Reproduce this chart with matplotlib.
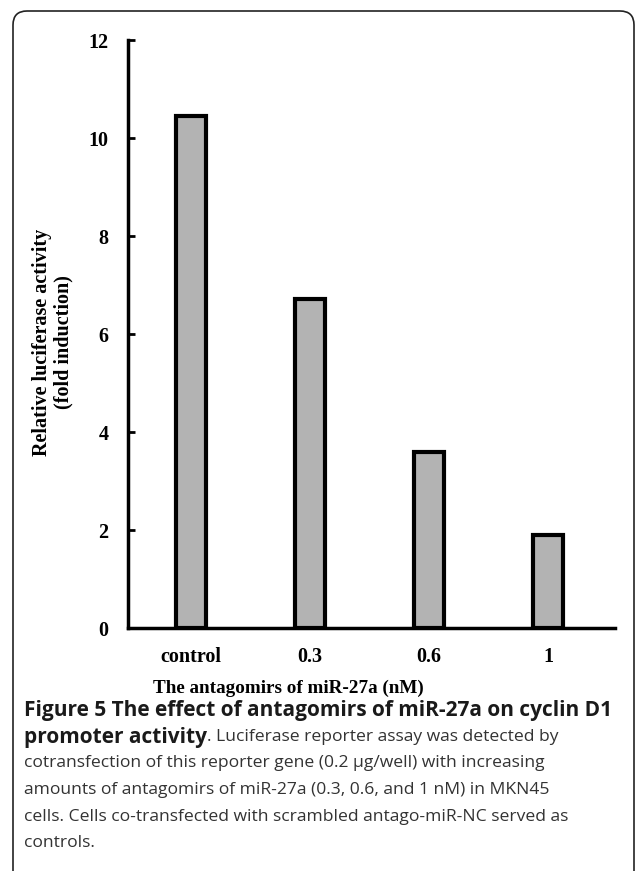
import matplotlib.pyplot as plt
from matplotlib.patches import FancyBboxPatch

# data
groups = ['control', '0.3', '0.6', '1']
activity = [10.45, 6.72, 3.6, 1.9]
yticks = [0, 2, 4, 6, 8, 10, 12]

W, H = 635, 871
fig = plt.figure(figsize=(W/100, H/100), dpi=100)

# rounded frame around the figure panel (pixel coordinates)
frame = FancyBboxPatch((13, -20), 634 - 13, H - 11 + 20,
                       boxstyle='round,pad=0,rounding_size=14',
                       transform=None, fill=False,
                       edgecolor='#222222', linewidth=1.2)
fig.patches.append(frame)

ax = fig.add_axes([128/W, (H-628)/H, (615-128)/W, (628-40)/H])
pos = list(range(len(groups)))
ax.bar(pos, activity, width=0.25, color='#b3b3b3', edgecolor='black', linewidth=3)
ax.set_xlim(-0.53, 3.56)
ax.set_ylim(0, 12)
ax.set_yticks(yticks)
ax.set_xticks(pos)
ax.set_xticklabels(groups)
for s in ['top', 'right']:
    ax.spines[s].set_visible(False)
for s in ['left', 'bottom']:
    ax.spines[s].set_linewidth(2.5)

serif = {'family': 'Liberation Serif', 'weight': 'bold'}
ax.tick_params(axis='y', direction='in', length=5, width=2, pad=14, labelsize=14.5)
ax.tick_params(axis='x', length=0, pad=14, labelsize=14.5)
for lbl in ax.get_xticklabels() + ax.get_yticklabels():
    lbl.set_fontfamily('Liberation Serif')
    lbl.set_fontweight('bold')

ax.set_xlabel('The antagomirs of miR-27a (nM)', fontdict=serif, fontsize=13.8)
ax.xaxis.set_label_coords((288-128)/487, -(688-628)/588)
ax.xaxis.label.set_va('center')
ax.set_ylabel('Relative luciferase activity\n(fold induction)', fontdict=serif,
              fontsize=14.5, linespacing=1.1)
ax.yaxis.set_label_coords((53-128)/487, (628-342)/588)
ax.yaxis.label.set_va('center')

# caption
cap_x = 24/W
fs_b = 15
fs = 12.6
lines_y = [710, 737, 763, 790, 817, 843]
fig.text(cap_x, 1 - lines_y[0]/H, 'Figure 5 The effect of antagomirs of miR-27a on cyclin D1',
         family='Open Sans', weight='bold', fontsize=fs_b, color='#1a1a1a', va='center')
t = fig.text(cap_x, 1 - lines_y[1]/H, 'promoter activity',
             family='Open Sans', weight='bold', fontsize=fs_b, color='#1a1a1a', va='center')
fig.canvas.draw()
bb = t.get_window_extent()
fig.text(bb.x1/W, 1 - lines_y[1]/H, '. Luciferase reporter assay was detected by',
         family='Open Sans', fontsize=fs, color='#333333', va='center')
rest = ['cotransfection of this reporter gene (0.2 \u00b5g/well) with increasing',
        'amounts of antagomirs of miR-27a (0.3, 0.6, and 1 nM) in MKN45',
        'cells. Cells co-transfected with scrambled antago-miR-NC served as',
        'controls.']
for y, s in zip(lines_y[2:], rest):
    fig.text(cap_x, 1 - y/H, s, family='Open Sans', fontsize=fs, color='#333333', va='center')

fig.savefig('out.png', dpi=100)
